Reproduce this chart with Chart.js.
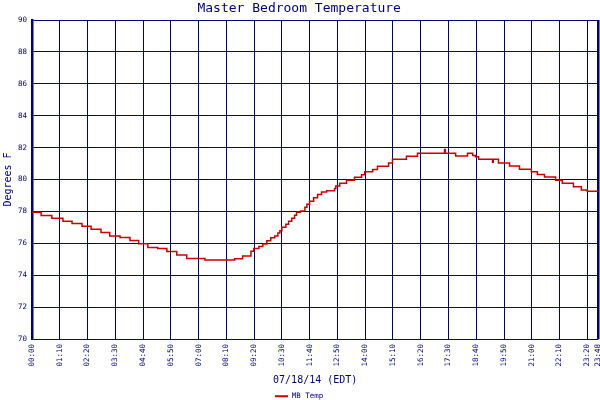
<!DOCTYPE html>
<html>
<head>
<meta charset="utf-8">
<script src="https://cdn.jsdelivr.net/npm/chart.js@4"></script>
<style>
html,body{margin:0;padding:0;background:#fff;}
#wrap{width:600px;height:400px;}
</style>
</head>
<body>
<div id="wrap"><canvas id="c" width="600" height="400"></canvas></div>
<script>
// Minutes after midnight where each reading starts
const minutes = [0,23,50,78,101,126,149,174,196,222,247,269,292,317,340,365,390,436,511,531,552,559,572,582,592,602,612,620,625,630,640,647,655,662,667,677,688,693,700,710,720,730,743,763,766,776,793,813,831,839,859,871,899,909,944,972,1040,1042,1068,1098,1111,1118,1126,1161,1163,1176,1204,1229,1259,1274,1292,1320,1337,1365,1385,1400,1428];
// Temperature readings (deg F)
const temps = [77.94,77.74,77.57,77.38,77.24,77.07,76.88,76.67,76.45,76.37,76.18,75.97,75.74,75.68,75.49,75.26,75.05,74.96,75.03,75.2,75.5,75.68,75.8,75.95,76.16,76.35,76.46,76.64,76.79,77.0,77.19,77.38,77.57,77.76,77.94,78.03,78.26,78.45,78.64,78.85,79.06,79.21,79.29,79.44,79.59,79.76,79.95,80.14,80.3,80.49,80.62,80.83,81.04,81.27,81.46,81.65,81.88,81.65,81.48,81.65,81.5,81.42,81.27,81.08,81.27,81.04,80.85,80.64,80.49,80.32,80.16,79.95,79.76,79.55,79.34,79.26,79.26];
const xTicks = [0,70,140,210,280,350,420,490,560,630,700,770,840,910,980,1050,1120,1190,1260,1330,1400,1428];
const yTicks = [70,72,74,76,78,80,82,84,86,88,90];
const seriesName = 'MB Temp';
const chartTitle = 'Master Bedroom Temperature';
const xTitle = '07/18/14 (EDT)';
const yTitle = 'Degrees F';

const NAVY = '#000080';
const RED = '#cc0000';
const mono = 'DejaVu Sans Mono';

function hhmm(v){
  const h = Math.floor(v/60), m = v%60;
  return String(h).padStart(2,'0') + ':' + String(m).padStart(2,'0');
}

const pts = minutes.map((m,i)=>({x:m,y:temps[i]}));

new Chart(document.getElementById('c'), {
  type: 'line',
  data: {
    datasets: [{
      label: seriesName,
      data: pts,
      stepped: true,
      borderColor: RED,
      backgroundColor: RED,
      borderWidth: 1.5,
      pointRadius: 0,
      fill: false
    }]
  },
  options: {
    responsive: false,
    animation: false,
    devicePixelRatio: 1,
    layout: { padding: { left: 0, right: 1.6, top: 0, bottom: -10 } },
    plugins: {
      title: {
        display: true,
        text: chartTitle,
        color: NAVY,
        font: { family: mono, size: 13, weight: 'normal' },
        padding: { top: 1, bottom: 3.4 }
      },
      legend: {
        display: true,
        position: 'bottom',
        labels: {
          color: NAVY,
          font: { family: mono, size: 7.5 },
          boxWidth: 13,
          boxHeight: 2,
          padding: 2,
          generateLabels: (chart) => chart.data.datasets.map((ds,i)=>({
            text: ds.label, fillStyle: RED, strokeStyle: RED, lineWidth: 0, datasetIndex: i, fontColor: NAVY
          }))
        }
      },
      tooltip: { enabled: false }
    },
    scales: {
      x: {
        type: 'linear',
        min: 0,
        max: 1428,
        afterBuildTicks: (s) => { s.ticks = xTicks.map(v=>({value:v})); },
        afterFit: (s) => { s.height = 51.5; s.paddingLeft = 0; s.paddingRight = 0; },
        ticks: {
          autoSkip: false,
          minRotation: 90,
          maxRotation: 90,
          padding: 5,
          color: NAVY,
          font: { family: mono, size: 7.5 },
          callback: (v) => hhmm(v)
        },
        grid: {
          color: NAVY,
          lineWidth: (ctx) => (ctx.tick && ctx.tick.value === 1428) ? 2.5 : 1,
          drawTicks: false
        },
        border: { display: false },
        title: {
          display: true,
          text: xTitle,
          color: NAVY,
          font: { family: mono, size: 10 },
          padding: { top: 0, bottom: 4 }
        }
      },
      y: {
        min: 70,
        max: 90,
        afterBuildTicks: (s) => { s.ticks = yTicks.map(v=>({value:v})); },
        afterFit: (s) => { s.width = 32; },
        ticks: {
          padding: 5,
          color: NAVY,
          font: { family: mono, size: 7.5 },
          callback: (v) => String(v)
        },
        grid: {
          color: NAVY,
          lineWidth: 1,
          drawTicks: false
        },
        border: { display: true, color: NAVY, width: 2.5 },
        title: {
          display: true,
          text: yTitle,
          color: NAVY,
          font: { family: mono, size: 10 },
          padding: { top: 2, bottom: 0 }
        }
      }
    }
  }
});
</script>
</body>
</html>
